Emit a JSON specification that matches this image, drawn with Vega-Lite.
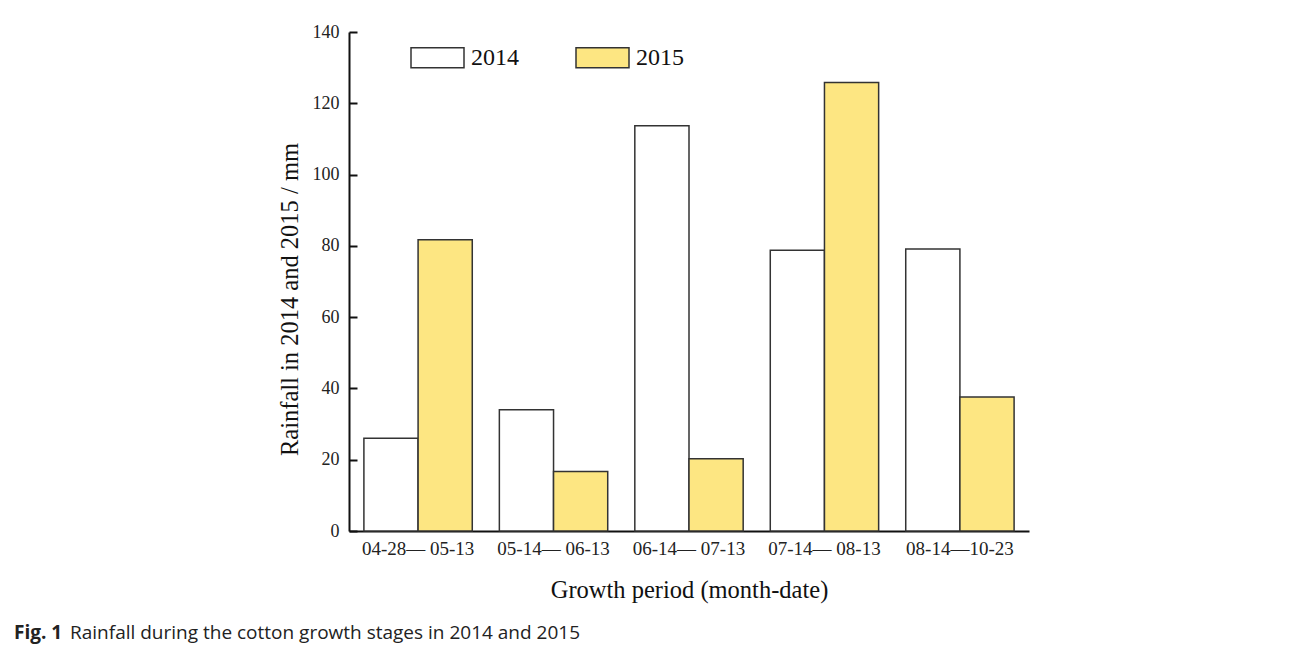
{
  "$schema": "https://vega.github.io/schema/vega-lite/v6.json",
  "width": 680,
  "height": 499,
  "autosize": {"type": "none"},
  "padding": {"left": 349, "top": 32, "right": 263, "bottom": 116},
  "background": "white",
  "config": {"view": {"stroke": null}, "font": "Liberation Serif"},
  "title": {
    "text": "Fig. 1",
    "subtitle": "\u2800\u2800\u2800\u2800Rainfall during the cotton growth stages in 2014 and 2015",
    "orient": "bottom",
    "anchor": "start",
    "frame": "group",
    "dx": -335,
    "offset": 22,
    "font": "Open Sans",
    "fontSize": 19,
    "fontWeight": "bold",
    "color": "#222",
    "subtitleFont": "Open Sans",
    "subtitleFontSize": 19,
    "subtitleFontWeight": "normal",
    "subtitleColor": "#222",
    "subtitlePadding": -19
  },
  "data": {
    "values": [
      {"period": "04-28\u2014 05-13", "year": "2014", "rainfall": 26},
      {"period": "04-28\u2014 05-13", "year": "2015", "rainfall": 81.7},
      {"period": "05-14\u2014 06-13", "year": "2014", "rainfall": 34},
      {"period": "05-14\u2014 06-13", "year": "2015", "rainfall": 16.7},
      {"period": "06-14\u2014 07-13", "year": "2014", "rainfall": 113.7},
      {"period": "06-14\u2014 07-13", "year": "2015", "rainfall": 20.3},
      {"period": "07-14\u2014 08-13", "year": "2014", "rainfall": 78.8},
      {"period": "07-14\u2014 08-13", "year": "2015", "rainfall": 125.8},
      {"period": "08-14\u201410-23", "year": "2014", "rainfall": 79.1},
      {"period": "08-14\u201410-23", "year": "2015", "rainfall": 37.6}
    ]
  },
  "mark": {"type": "bar", "stroke": "#333333", "strokeWidth": 1.5},
  "encoding": {
    "x": {
      "field": "period",
      "type": "nominal",
      "sort": null,
      "scale": {"paddingInner": 0.2, "paddingOuter": 0.11},
      "axis": {
        "title": "Growth period (month-date)",
        "titleFontSize": 24.5,
        "titleFontWeight": "normal",
        "titleColor": "#111",
        "titlePadding": 20,
        "labelAngle": 0,
        "labelFontSize": 19,
        "labelColor": "#222",
        "labelPadding": 8,
        "ticks": false,
        "domainColor": "#111",
        "domainWidth": 2
      }
    },
    "xOffset": {"field": "year", "type": "nominal", "sort": ["2014", "2015"]},
    "y": {
      "field": "rainfall",
      "type": "quantitative",
      "scale": {"domain": [0, 140], "nice": false},
      "axis": {
        "title": "Rainfall in 2014 and 2015 / mm",
        "titleFontSize": 24.5,
        "titleFontWeight": "normal",
        "titleColor": "#111",
        "titlePadding": 10,
        "titleY": 267,
        "values": [0, 20, 40, 60, 80, 100, 120, 140],
        "grid": false,
        "labelFontSize": 18,
        "labelColor": "#222",
        "tickSize": -8,
        "tickWidth": 2,
        "tickColor": "#111",
        "labelPadding": 18,
        "domainColor": "#111",
        "domainWidth": 2
      }
    },
    "fill": {
      "field": "year",
      "type": "nominal",
      "scale": {"domain": ["2014", "2015"], "range": ["#ffffff", "#fde682"]},
      "legend": {
        "title": null,
        "orient": "none",
        "legendX": 61,
        "legendY": -2,
        "direction": "horizontal",
        "columns": 2,
        "columnPadding": 54,
        "symbolType": "M-1,-0.38L1,-0.38L1,0.38L-1,0.38Z",
        "symbolSize": 2809,
        "symbolStrokeColor": "#333333",
        "symbolStrokeWidth": 1.5,
        "symbolOpacity": 1,
        "labelFontSize": 24,
        "labelColor": "#111",
        "labelOffset": 6
      }
    }
  }
}
